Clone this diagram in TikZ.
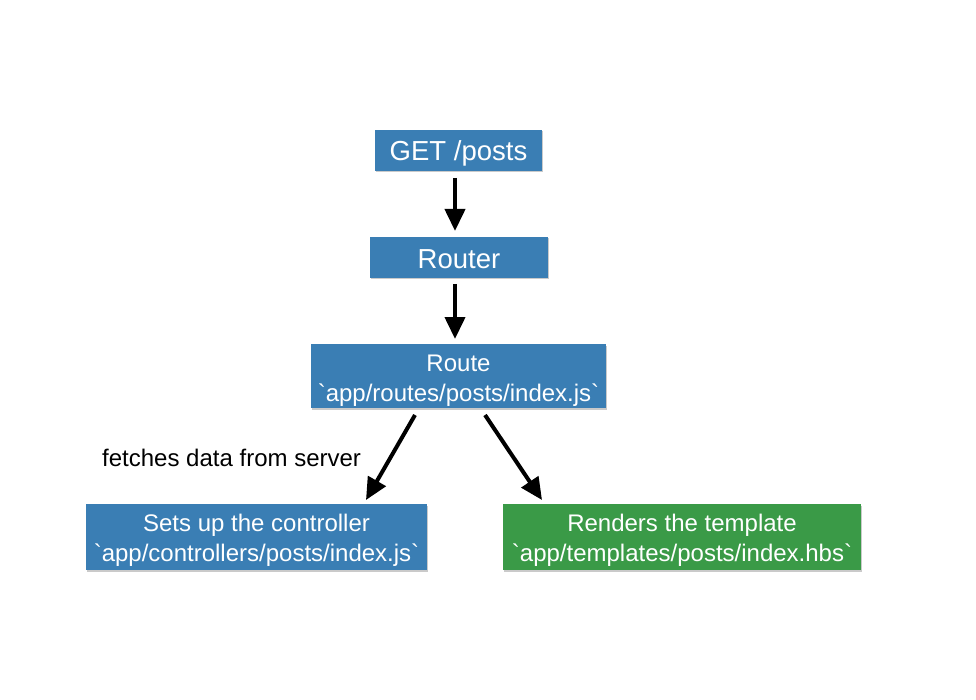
\documentclass[tikz,border=0pt]{standalone}
\usepackage{fontspec}
\setmainfont{Liberation Sans}[Ligatures=TeXOff]
\usetikzlibrary{arrows.meta,shadows}
\definecolor{boxblue}{HTML}{3A7EB4}
\definecolor{boxgreen}{HTML}{3A9A47}
\newcommand{\bq}{\symbol{96}}
\tikzset{
  box/.style={fill=boxblue, inner sep=0pt,
    drop shadow={shadow xshift=1pt, shadow yshift=-1.5pt, opacity=0.35, fill=black!60}},
  txt/.style={text=white, inner sep=0pt, align=center},
  bigtext/.style={font=\fontsize{27.5}{30}\selectfont},
  smalltext/.style={font=\fontsize{24}{30}\selectfont},
  flow/.style={line width=4pt, -{Triangle[length=22pt,width=20pt]}}
}
\begin{document}
\begin{tikzpicture}[x=1pt,y=-1pt]
\useasboundingbox (0,0) rectangle (976,700);
\node[box, minimum width=167pt, minimum height=41pt] (get) at (458.5,150.5) {};
\node[txt, bigtext] (getT) at ([yshift=-3pt]get.center) {GET /posts};
\node[box, minimum width=178pt, minimum height=41pt] (router) at (459,257.5) {};
\node[txt, bigtext] (routerT) at ([yshift=-2pt]router.center) {Router};
\node[box, minimum width=295pt, minimum height=64pt] (route) at (458.5,376) {};
\node[txt, smalltext] (routeT) at ([yshift=-5pt]route.center) {Route\\\bq app/routes/posts/index.js\bq};
\node[box, minimum width=341pt, minimum height=66pt] (ctrl) at (256.5,537) {};
\node[txt, smalltext] (ctrlT) at ([yshift=-3pt]ctrl.center) {Sets up the controller\\\bq app/controllers/posts/index.js\bq};
\node[box, fill=boxgreen, minimum width=358pt, minimum height=66pt] (tmpl) at (682,537) {};
\node[txt, smalltext] (tmplT) at ([yshift=-3pt]tmpl.center) {Renders the template\\\bq app/templates/posts/index.hbs\bq};
\node[smalltext, anchor=west, inner sep=0pt] (lbl) at (102,458) {fetches data from server};
\coordinate (a1s) at (455,178); \coordinate (a1e) at (455,231);
\coordinate (a2s) at (455,284); \coordinate (a2e) at (455,339);
\coordinate (a3s) at (415,415); \coordinate (a3e) at (366,500);
\coordinate (a4s) at (485,415); \coordinate (a4e) at (542,500);
\draw[flow] (a1s) -- (a1e);
\draw[flow] (a2s) -- (a2e);
\draw[flow] (a3s) -- (a3e);
\draw[flow] (a4s) -- (a4e);
\end{tikzpicture}
\end{document}
